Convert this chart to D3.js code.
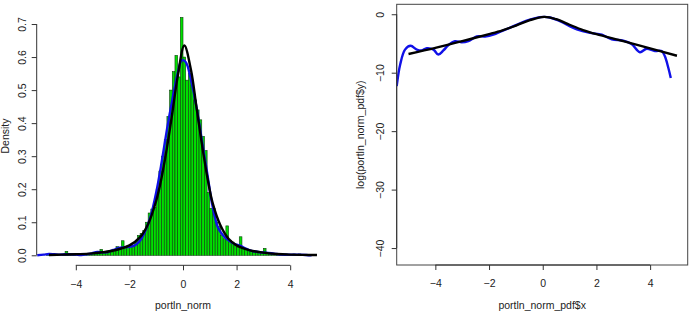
<!DOCTYPE html>
<html>
<head>
<meta charset="utf-8">
<script src="https://cdn.jsdelivr.net/npm/d3@7"></script>
<style>
  body { margin: 0; background: #fff; }
  svg { display: block; }
  text { font-family: 'Liberation Sans', Arial, sans-serif; fill: #222; }
</style>
</head>
<body>
<svg id="chart" width="692" height="322"></svg>
<script>
// histogram of portln_norm, breaks every 0.1 from -5.3 to 5.0
const binStart = -5.3
const binWidth = 0.1
const histDensity = [
  0, 0, 0.002, 0.004, 0.004, 0.002, 0, 0, 0.002, 0.012,
  0.002, 0.002, 0.004, 0, 0.002, 0.004, 0.002, 0.004, 0.004, 0.006,
  0.008, 0.006, 0.018, 0.008, 0.01, 0.012, 0.01, 0.016, 0.026, 0.02,
  0.044, 0.024, 0.028, 0.032, 0.026, 0.04, 0.06, 0.066, 0.075, 0.1,
  0.128, 0.14, 0.145, 0.2, 0.255, 0.3, 0.35, 0.42, 0.5, 0.556,
  0.605, 0.54, 0.72,
  0.6, 0.53, 0.55, 0.515, 0.47, 0.44, 0.41, 0.36, 0.317, 0.19,
  0.142, 0.142, 0.1, 0.087, 0.06, 0.05, 0.089, 0.045, 0.04, 0.03,
  0.025, 0.056, 0.022, 0.02, 0.015, 0.012, 0.01, 0.008, 0.008, 0.006,
  0.021, 0.006, 0.004, 0.004, 0.002, 0.004, 0.002, 0.002, 0.004, 0.002,
  0.002, 0.004, 0.002, 0.004, 0.002, 0, 0, 0.002, 0, 0
]

// kernel density estimate (blue)
const densX = [-5.44, -5.2, -5.0, -4.8, -4.6, -4.4, -4.2, -4.0, -3.8, -3.6, -3.4, -3.2, -3.0, -2.8, -2.6, -2.4, -2.2, -2.0, -1.8, -1.6, -1.4, -1.2, -1.0, -0.8, -0.6, -0.4, -0.2, -0.05, 0.1, 0.3, 0.5, 0.7, 0.9, 1.1, 1.3, 1.5, 1.7, 1.9, 2.1, 2.3, 2.5, 2.8, 3.1, 3.4, 3.7, 4.0, 4.3, 4.6, 4.8]
const densY = [0, 0.002, 0.004, 0.003, 0.002, 0.003, 0.003, 0.002, 0.001, 0.003, 0.006, 0.01, 0.009, 0.01, 0.016, 0.022, 0.024, 0.026, 0.03, 0.045, 0.075, 0.12, 0.19, 0.28, 0.38, 0.47, 0.55, 0.59, 0.585, 0.53, 0.45, 0.35, 0.25, 0.15, 0.085, 0.06, 0.045, 0.035, 0.03, 0.022, 0.015, 0.01, 0.008, 0.005, 0.002, 0.002, 0.002, 0.001, 0]

// fitted density (black)
const fitX = [-5.0, -4.5, -4.0, -3.5, -3.0, -2.5, -2.0, -1.6, -1.3, -1.0, -0.8, -0.6, -0.4, -0.2, 0.05, 0.3, 0.5, 0.7, 0.9, 1.1, 1.4, 1.7, 2.0, 2.5, 3.0, 3.5, 4.0, 4.5, 5.0]
const fitY = [0.001, 0.002, 0.003, 0.005, 0.009, 0.016, 0.03, 0.055, 0.095, 0.165, 0.235, 0.325, 0.43, 0.54, 0.635, 0.56, 0.45, 0.34, 0.24, 0.16, 0.09, 0.05, 0.03, 0.015, 0.008, 0.004, 0.002, 0.0012, 0.0008]

// log of density estimate (blue, right panel)
const logX = [-5.44, -5.31, -5.13, -4.92, -4.69, -4.51, -4.32, -4.07, -3.89, -3.70, -3.52, -3.27, -3.02, -2.77, -2.46, -2.15, -1.84, -1.53, -1.09, -0.6, -0.1, 0.27, 0.64, 1.27, 1.76, 2.2, 2.57, 3.0, 3.31, 3.62, 3.87, 4.18, 4.43, 4.55, 4.68, 4.77]
const logY = [-12.3, -8.6, -6.05, -5.4, -6.05, -6.2, -5.8, -6.05, -6.9, -6.2, -5.3, -4.6, -4.8, -4.6, -3.8, -3.8, -3.5, -2.9, -2.05, -1.1, -0.5, -0.55, -1.2, -2.6, -3.2, -3.5, -4.3, -4.5, -5.1, -6.5, -5.9, -6.3, -6.3, -7.2, -9.2, -10.9]

// log of fitted density (black, right panel)
const logFitX = [-5, -4, -3, -2, -1.5, -1, -0.5, 0.05, 0.5, 1, 1.5, 2, 3, 4, 5]
const logFitY = [-6.8, -5.75, -4.6, -3.4, -2.75, -1.95, -1.05, -0.45, -0.85, -1.8, -2.7, -3.4, -4.6, -5.85, -7.1]

const xTicks = [-4, -2, 0, 2, 4]
const densTicks = [0, 0.1, 0.2, 0.3, 0.4, 0.5, 0.6, 0.7]
const logTicks = [0, -10, -20, -30, -40]

const svg = d3.select('#chart')
const fontSize = 10.5

// ---------- left panel ----------
const xL = d3.scaleLinear().domain([-5.46, 5.46]).range([36.7, 329.3])
const yL = d3.scaleLinear().domain([-0.0288, 0.7488]).range([264.8, 7.9])
const left = svg.append('g')

left.selectAll('rect.bar')
  .data(histDensity)
  .join('rect')
  .attr('class', 'bar')
  .attr('x', (d, i) => xL(binStart + i * binWidth))
  .attr('width', xL(binWidth) - xL(0))
  .attr('y', d => yL(d))
  .attr('height', d => yL(0) - yL(d))
  .attr('fill', '#00e000')
  .attr('stroke', '#0d3d0d')
  .attr('stroke-width', 0.6)

const lineL = (xs, ys) => d3.line()
  .x(i => xL(xs[i]))
  .y(i => yL(ys[i]))
  .curve(d3.curveCatmullRom)(d3.range(xs.length))

left.append('path')
  .attr('d', lineL(densX, densY))
  .attr('fill', 'none')
  .attr('stroke', '#1010e8')
  .attr('stroke-width', 2.4)

left.append('path')
  .attr('d', lineL(fitX, fitY))
  .attr('fill', 'none')
  .attr('stroke', '#000')
  .attr('stroke-width', 2.4)

function rAxisBottom (g, x, y0, ticks) {
  const ax = g.append('g').attr('transform', `translate(0,${y0})`)
    .call(d3.axisBottom(x).tickValues(ticks).tickSize(5).tickPadding(10).tickFormat(d3.format('d')))
  ax.select('.domain').remove()
  ax.append('line')
    .attr('x1', x(ticks[0])).attr('x2', x(ticks[ticks.length - 1]))
    .attr('stroke', '#333')
  ax.selectAll('.tick line').attr('stroke', '#333')
  ax.selectAll('.tick text').attr('font-size', fontSize).attr('fill', '#222')
  ax.attr('font-family', null)
  return ax
}

function rAxisLeft (g, y, x0, ticks, fmt, off) {
  const ax = g.append('g').attr('transform', `translate(${x0},0)`)
    .call(d3.axisLeft(y).tickValues(ticks).tickSize(5).tickFormat(fmt))
  ax.select('.domain').remove()
  ax.append('line')
    .attr('y1', y(d3.min(ticks))).attr('y2', y(d3.max(ticks)))
    .attr('stroke', '#333')
  ax.selectAll('.tick line').attr('stroke', '#333')
  ax.selectAll('.tick text')
    .attr('x', null).attr('dy', null)
    .attr('text-anchor', 'middle')
    .attr('transform', `translate(${off},0) rotate(-90)`)
    .attr('font-size', fontSize).attr('fill', '#222')
  ax.attr('font-family', null)
  return ax
}

rAxisBottom(left, xL, 265.3, xTicks)
rAxisLeft(left, yL, 36.7, densTicks, d3.format('.1f'), -11)

left.append('text')
  .attr('x', 183).attr('y', 309)
  .attr('text-anchor', 'middle')
  .attr('font-size', fontSize)
  .text('portln_norm')

left.append('text')
  .attr('transform', 'translate(9,136) rotate(-90)')
  .attr('text-anchor', 'middle')
  .attr('font-size', fontSize)
  .text('Density')

// ---------- right panel ----------
const xR = d3.scaleLinear().domain([-5.44, 5.40]).range([396.7, 687.7])
const yR = d3.scaleLinear().domain([-42.9, 1.7]).range([265, 4.3])
const right = svg.append('g')

svg.append('clipPath').attr('id', 'clipR')
  .append('rect')
  .attr('x', 396.7).attr('y', 4.3)
  .attr('width', 291).attr('height', 260.7)

const lineR = (xs, ys) => d3.line()
  .x(i => xR(xs[i]))
  .y(i => yR(ys[i]))
  .curve(d3.curveCatmullRom)(d3.range(xs.length))

const plotR = right.append('g').attr('clip-path', 'url(#clipR)')

plotR.append('path')
  .attr('d', lineR(logX, logY))
  .attr('fill', 'none')
  .attr('stroke', '#1010e8')
  .attr('stroke-width', 2.4)

plotR.append('path')
  .attr('d', lineR(logFitX, logFitY))
  .attr('fill', 'none')
  .attr('stroke', '#000')
  .attr('stroke-width', 2.4)

right.append('rect')
  .attr('x', 396.7).attr('y', 4.3)
  .attr('width', 291).attr('height', 260.7)
  .attr('fill', 'none')
  .attr('stroke', '#444')

rAxisBottom(right, xR, 265, xTicks)
rAxisLeft(right, yR, 396.7, logTicks, d3.format('d'), -13)

right.append('text')
  .attr('x', 542.2).attr('y', 309)
  .attr('text-anchor', 'middle')
  .attr('font-size', fontSize)
  .text('portln_norm_pdf$x')

right.append('text')
  .attr('transform', 'translate(364,134.7) rotate(-90)')
  .attr('text-anchor', 'middle')
  .attr('font-size', fontSize)
  .text('log(portln_norm_pdf$y)')
</script>
</body>
</html>
